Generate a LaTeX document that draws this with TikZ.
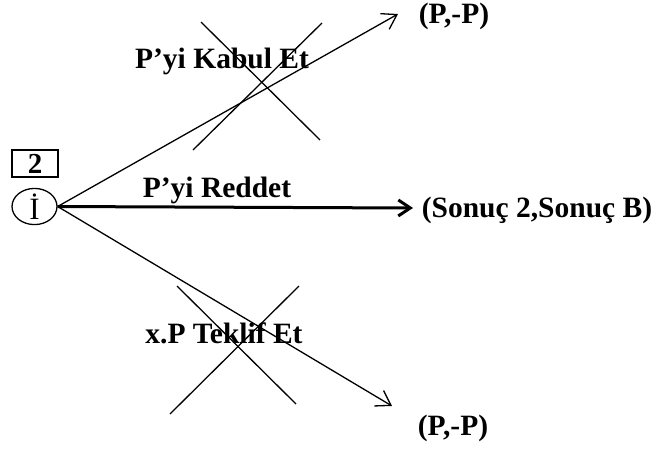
\documentclass[tikz,border=0pt]{standalone}
\usepackage{fontspec}
\setmainfont{Liberation Serif}
\usetikzlibrary{arrows.meta,shapes.geometric}
\begin{document}
\begin{tikzpicture}[x=1pt,y=-1pt,
  lbl/.style={font=\bfseries\fontsize{29.5}{32}\selectfont, inner sep=0pt, anchor=center},
  branch/.style={line width=1.3pt, -{Straight Barb[length=14pt,width=18pt,line width=1.3pt]}},
  chosen/.style={line width=3pt, -{Straight Barb[length=12pt,width=16pt,line width=3pt]}},
  strike/.style={line width=1.3pt},
  playerbox/.style={draw, line width=1.4pt, minimum width=46pt, minimum height=27pt, inner sep=0pt,
    font=\bfseries\fontsize{29}{32}\selectfont},
  decision/.style={draw, ellipse, line width=1.3pt, minimum width=45pt, minimum height=35pt, inner sep=0pt,
    font=\fontsize{31}{34}\selectfont}]
\useasboundingbox (0,0) rectangle (659,448);

% decision node and its player label
\node[playerbox] (box) at (35,163.5) {2};
\node[decision] (dn) at (34.5,206.5) {İ};

% end points of the three branches
\coordinate (up) at (398,14);
\coordinate (mid) at (413,208);
\coordinate (low) at (392,406);

\draw[branch] (dn.east) -- (up);
\draw[chosen] (dn.east) -- (mid);
\draw[branch] (dn.east) -- (low);

% branch labels
\node[lbl] (acc) at (222,61) {P’yi Kabul Et};
\node[lbl] (rej) at (217,190) {P’yi Reddet};
\node[lbl] (off) at (224,333) {x.P Teklif Et};

% outcomes
\node[lbl] (o1) at (454,16) {(P,-P)};
\node[lbl] (o2) at (537,210) {(Sonuç 2,Sonuç B)};
\node[lbl] (o3) at (453,428) {(P,-P)};

% crosses striking out the rejected branches
\coordinate (a1) at (201,22);
\coordinate (a2) at (320,140);
\coordinate (a3) at (322,23);
\coordinate (a4) at (193,150);
\draw[strike] (a1) -- (a2);
\draw[strike] (a3) -- (a4);

\coordinate (b1) at (177,286);
\coordinate (b2) at (296,404);
\coordinate (b3) at (299,286);
\coordinate (b4) at (170,414);
\draw[strike] (b1) -- (b2);
\draw[strike] (b3) -- (b4);
\end{tikzpicture}
\end{document}
